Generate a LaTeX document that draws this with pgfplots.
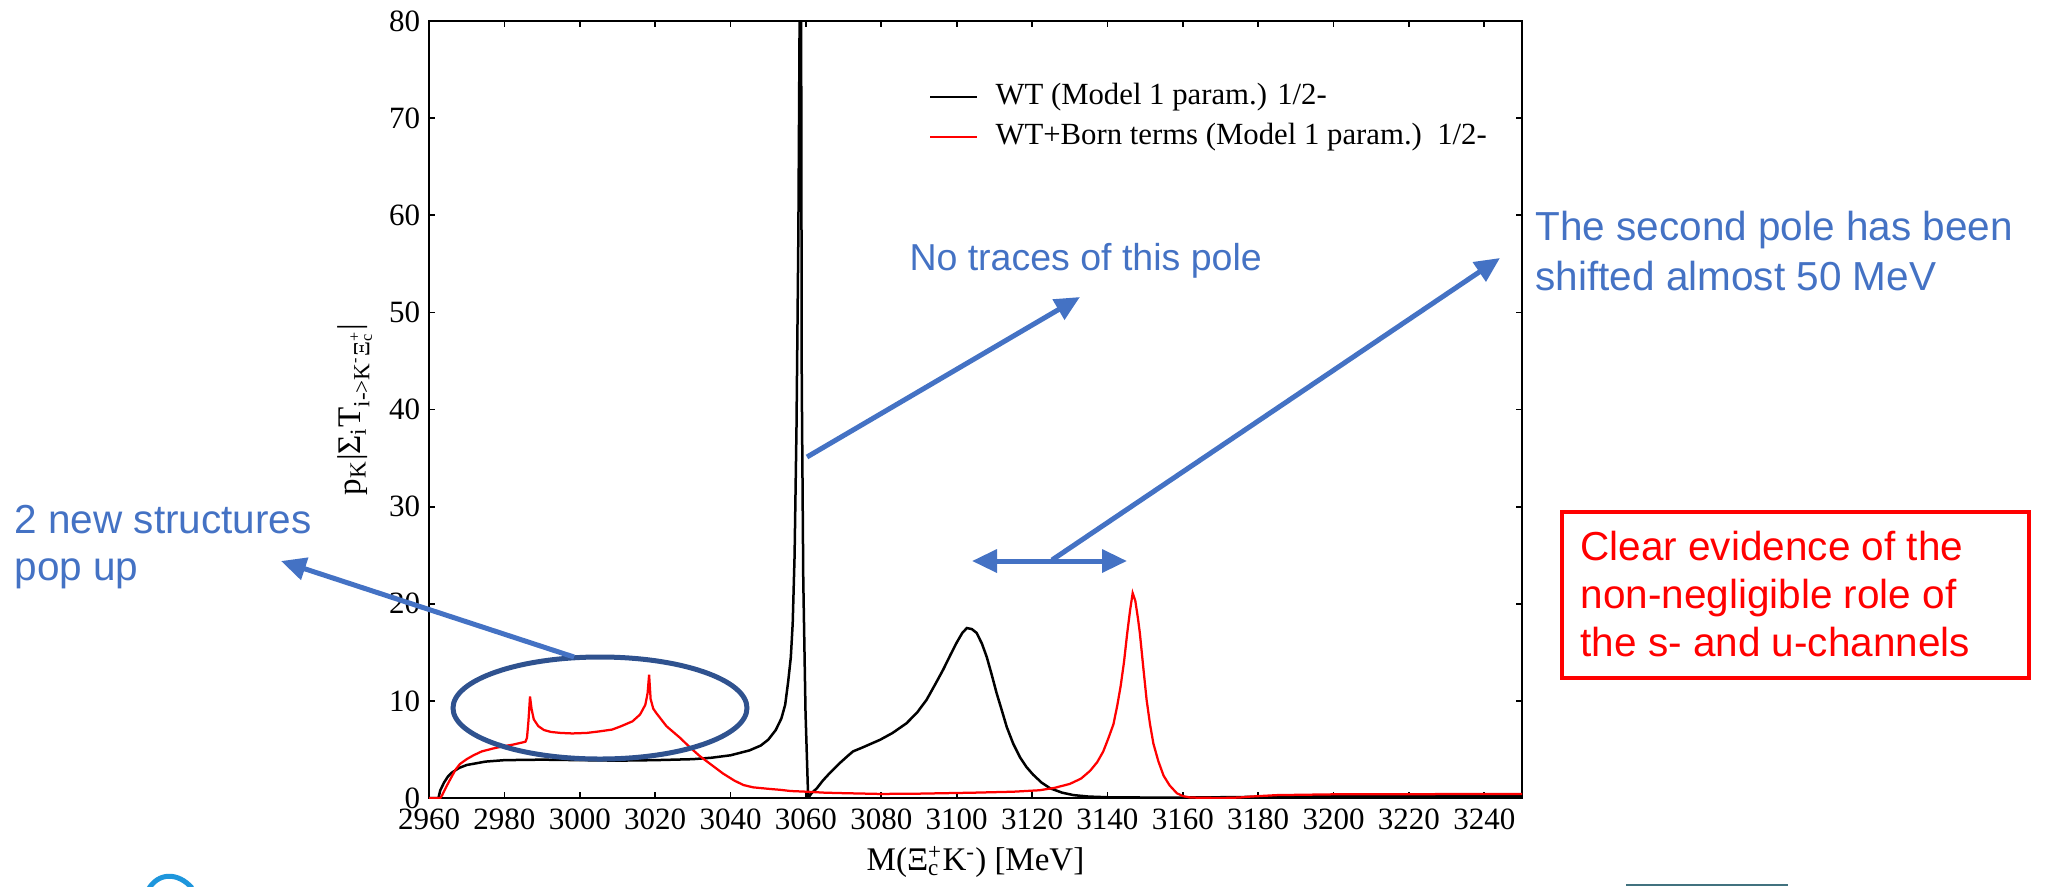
\documentclass[border=0pt]{standalone}
\usepackage{fontspec}
\setmainfont{Liberation Serif}
\newfontfamily\arial{Liberation Sans}
\usepackage{pgfplots}
\pgfplotsset{compat=1.18}
\usetikzlibrary{arrows.meta}
\definecolor{annblue}{HTML}{4472C4}
\definecolor{elblue}{HTML}{2F528F}
\definecolor{tealline}{HTML}{41727F}
\definecolor{logoblue}{HTML}{1E96DC}
\newcommand{\Xic}{Ξ\rlap{\textsubscript{c}}\textsuperscript{+}}
\begin{document}
\begin{tikzpicture}
\useasboundingbox (0pt,0pt) rectangle (818pt,-354.4pt);
\begin{axis}[
  scale only axis, width=437.2pt, height=310.8pt,
  at={(171.6pt,-319.2pt)}, anchor=south west,
  xmin=2960, xmax=3250, ymin=0, ymax=80,
  xtick={2960,2980,...,3240}, ytick={0,10,...,80},
  tick align=inside, major tick length=2.4pt,
  axis line style={line width=1pt},
  every tick/.style={black, line width=0.7pt},
  /pgf/number format/1000 sep={},
  /pgf/number format/assume math mode=true,
  tick label style={font=\fontsize{12.4}{14}\selectfont},
  xticklabel style={yshift=-1pt},
  label style={font=\fontsize{13.2}{15}\selectfont},
  xlabel={M(\Xic K\textsuperscript{-}) [MeV]},
  ylabel={p\textsubscript{K}|Σ\textsubscript{i}T\textsubscript{i->K\textsuperscript{-}\Xic}|},
  xlabel style={at={(axis description cs:0.5,-0.0824)}, anchor=center},
  ylabel style={at={(axis description cs:-0.0677,0.5)}, anchor=center},
  legend style={at={(axis description cs:0.457,0.926)}, anchor=north west,
    draw=none, fill=none, inner sep=0pt, row sep=2pt, column sep=6pt,
    font=\fontsize{12.3}{14}\selectfont,
    nodes={inner sep=1pt, text height=9pt, text depth=3pt}},
  legend cell align=left,
  legend image code/.code={\draw[#1, line width=0.8pt] (0pt,0pt) -- (18.8pt,0pt);},
]
\addplot[black, line width=1pt] coordinates {
(2960,0) (2962.5,0) (2963,0.8) (2964,1.6) (2965,2.2) (2966,2.6) (2968,3.1) (2970,3.4)
(2975,3.75) (2980,3.9) (2990,3.95) (3000,3.9) (3010,3.85) (3020,3.9) (3030,4.0)
(3035,4.15) (3040,4.4) (3045,4.9) (3048,5.4) (3050,6.0) (3052,7.0) (3053.5,8.2)
(3054.5,9.6) (3055.3,12.0) (3056,14.5) (3056.5,18) (3057,25) (3057.5,38) (3058,58)
(3058.4,85) (3058.6,110) (3058.9,43) (3059.3,22.5) (3059.9,8.8) (3060.6,0)
(3061.5,0.5) (3062.9,1.0) (3064.5,1.8) (3066.4,2.6) (3069,3.6) (3071,4.3) (3072.5,4.8)
(3075,5.2) (3079.7,6.0) (3083,6.7) (3086.7,7.7) (3089.5,8.8) (3092,10.1) (3094.3,11.7)
(3096.4,13.2) (3098.3,14.7) (3100,16) (3101.5,17.0) (3102.7,17.5) (3104,17.4)
(3105.3,17.0) (3106.7,15.9) (3108,14.5) (3109.3,12.7) (3110.6,10.8) (3112,9.0)
(3113.3,7.3) (3115,5.6) (3116.8,4.2) (3118.5,3.2) (3120.3,2.4) (3122.5,1.6)
(3124.8,1.0) (3128,0.55) (3131,0.3) (3135,0.15) (3140,0.08) (3150,0.05) (3160,0.05)
(3170,0.08) (3180,0.12) (3200,0.18) (3250,0.22)
};
\addlegendentry{WT (Model 1 param.) 1/2-}
\addplot[red, line width=0.9pt] coordinates {
(2960,0) (2963,0) (2963.5,0.3) (2964.5,1.1) (2965.6,1.9) (2967,2.9) (2968.2,3.5)
(2970,4.0) (2971.8,4.4) (2974,4.8) (2977,5.1) (2980,5.35) (2982.3,5.5) (2984,5.65)
(2985.6,5.8) (2986,6.2) (2986.4,8) (2986.8,10.45) (2987.2,9.2) (2987.8,8.1) (2989,7.4)
(2990.5,7.0) (2992.4,6.8) (2995,6.7) (2998,6.65) (3001.8,6.7) (3005,6.85) (3008.6,7.05)
(3011,7.4) (3014,7.9) (3016,8.6) (3017.4,9.6) (3018,10.8) (3018.4,12.7) (3018.8,10.2)
(3019.5,9.2) (3020.4,8.7) (3023,7.4) (3026.6,6.2) (3029,5.3) (3031.9,4.3) (3035,3.4)
(3038.1,2.5) (3041,1.8) (3043.4,1.34) (3046,1.1) (3050,0.95) (3053,0.85) (3056,0.72)
(3060.2,0.65) (3065,0.55) (3070,0.5) (3079.7,0.42) (3090,0.45) (3104.5,0.55)
(3115,0.65) (3122,0.8) (3126,1.05) (3130,1.45) (3133,2.0) (3135.4,2.8) (3137.3,3.7)
(3138.9,4.8) (3140.3,6.2) (3141.6,7.6) (3142.6,9.5) (3143.5,11.5) (3144.4,14)
(3145.2,16.8) (3146,19.3) (3146.7,21.1) (3147.4,20.3) (3148.1,18.5) (3148.6,17)
(3149.5,13.5) (3150.4,10.1) (3151.3,7.6) (3152.2,5.6) (3153.5,3.8) (3154.9,2.3)
(3156.5,1.3) (3158.4,0.5) (3160,0.2) (3162,0.05) (3170,0) (3175,0.05) (3178,0.15)
(3185,0.3) (3200,0.38) (3250,0.42)
};
\addlegendentry{WT+Born terms (Model 1 param.)\ \ 1/2-}
\end{axis}
\begin{scope}[x=0.4pt,y=-0.4pt, every node/.style={inner sep=0pt, anchor=base west},
  font=\arial\fontsize{16.2}{19}\selectfont]
% ellipse
\draw[elblue, line width=2pt] (600,708) ellipse [x radius=58.8pt, y radius=20.4pt];
% arrows
\draw[annblue, line width=2pt, -{Triangle[length=10pt,width=9pt]}] (574,657) -- (281,561);
\draw[annblue, line width=2pt, -{Triangle[length=10pt,width=9pt]}] (807,457) -- (1080,297);
\draw[annblue, line width=2pt, -{Triangle[length=10pt,width=9pt]}] (1052,560) -- (1500,258);
\draw[annblue, line width=2pt, {Triangle[length=10pt,width=9pt]}-{Triangle[length=10pt,width=9pt]}] (972,561) -- (1127,561);
% texts
\node[text=annblue] at (14,533) {2 new structures};
\node[text=annblue] at (14,580) {pop up};
\node[text=annblue, font=\arial\fontsize{15}{18}\selectfont] at (909,270) {No traces of this pole};
\node[text=annblue] at (1535,240) {The second pole has been};
\node[text=annblue] at (1535,290) {shifted almost 50 MeV};
\draw[red, line width=1.4pt] (1562,512) rectangle (2029,678);
\node[text=red] at (1580,560) {Clear evidence of the};
\node[text=red] at (1580,608) {non-negligible role of};
\node[text=red] at (1580,656) {the s- and u-channels};
% slide decorations
\draw[tealline, line width=0.8pt] (1626,885) -- (1788,885);
\draw[logoblue, line width=2pt] (148,890) .. controls (158,872) and (178,872) .. (192,888);
\end{scope}
\end{tikzpicture}
\end{document}
